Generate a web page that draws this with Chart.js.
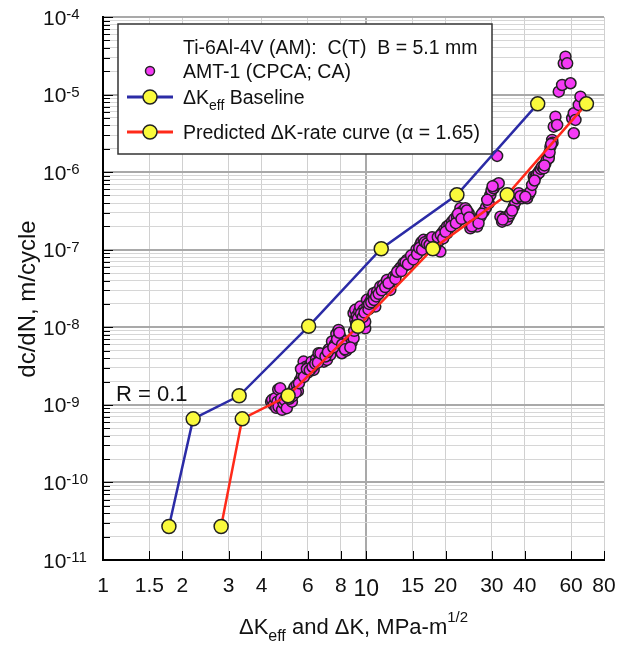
<!DOCTYPE html>
<html>
<head>
<meta charset="utf-8">
<script src="https://cdn.jsdelivr.net/npm/chart.js@4.4.0/dist/chart.umd.min.js"></script>
<style>
  html, body { margin: 0; padding: 0; background: #fff; }
</style>
</head>
<body>
<canvas id="chart" width="619" height="649"></canvas>
<script>
// ---------- data ----------
const xTicks = [1, 1.5, 2, 3, 4, 6, 8, 10, 15, 20, 30, 40, 60, 80];
const yExponents = [-4, -5, -6, -7, -8, -9, -10, -11];

// dK_eff baseline (blue) and predicted dK-rate curve (red) share the same rate levels
const baseK = [1.78, 2.20, 3.29, 6.04, 11.4, 22.1, 44.8];
const predK = [2.81, 3.38, 5.05, 9.30, 17.9, 34.3, 68.6];
const rateLevels = [2.7e-11, 6.6e-10, 1.31e-9, 1.03e-8, 1.03e-7, 5.1e-7, 7.6e-6];

// AMT-1 (CPCA; CA) test data
const amtK = [
  4.35, 4.39, 4.45, 4.51, 4.55, 4.60, 4.63, 4.64, 4.71, 4.75, 4.79, 4.85, 4.90, 4.99, 5.00,
  5.15, 5.22, 5.29, 5.35, 5.45, 5.50, 5.61, 5.70, 5.78, 5.86, 5.90, 6.00, 6.12, 6.20, 6.31,
  6.45, 6.59, 6.68, 6.80, 6.90, 7.09, 7.20, 7.30, 7.41, 7.60, 7.70, 7.85, 7.96, 8.08, 8.20,
  8.30, 8.40, 8.56, 8.80, 8.95, 8.95, 9.08, 9.08, 9.20, 9.40, 9.49, 9.60, 9.77, 9.91, 9.91,
  10.06, 10.1, 10.36, 10.5, 10.66, 10.66, 10.82, 11.0, 11.3, 11.6, 11.99, 12.0, 12.34, 12.5, 12.7,
  13.0, 13.27, 13.5, 13.86, 14.0, 14.28, 14.6, 14.92, 15.3, 15.5, 15.81, 16.04, 16.2, 16.51, 16.8,
  17.26, 17.6, 18.0, 18.57, 18.9, 19.12, 19.4, 19.8, 20.27, 20.27, 20.7, 21.18, 21.6, 22.13, 22.5,
  22.78, 23.12, 23.4, 23.79, 23.79, 24.49, 24.86, 24.86, 25.5, 26.0, 26.36, 27.13, 27.93, 28.5, 29.17,
  29.61, 29.9, 30.48, 31.0, 31.41, 31.85, 32.33, 32.81, 33.5, 34.28, 34.8, 35.28, 36.31, 36.8, 37.3,
  37.94, 39.08, 39.8, 40.83, 41.5, 42.04, 42.66, 43.27, 43.92, 44.5, 45.21, 45.21, 46.0, 46.56, 47.22,
  47.93, 48.5, 49.34, 49.34, 50.07, 50.83, 51.0, 51.54, 52.31, 53.1, 53.85, 55.46, 56.26, 57.11, 57.96,
  59.67, 60.55, 61.41, 61.41, 62.33, 64.14, 65.11,
  5.10, 5.25, 5.40, 5.55, 5.65, 5.80, 5.95, 6.10, 6.25, 6.40,
  6.55, 6.70, 7.00, 7.15, 7.50, 7.75, 7.90, 8.10, 8.30, 8.70,
  9.00, 9.15, 9.30, 9.55, 9.70, 9.85, 10.2, 10.25, 10.45, 10.7,
  10.9, 11.15, 11.45, 11.8, 12.15, 12.9, 13.1, 13.6, 14.1, 14.4,
  14.8, 15.1, 15.6, 15.9, 16.3, 16.7, 17.0, 17.4, 17.8, 18.3,
  18.7, 19.2, 19.6, 20.0, 21.0, 21.9, 22.3, 23.0, 24.1, 24.6,
  25.2, 26.7, 27.5, 28.8, 30.2, 33.0, 35.8, 38.5, 40.2, 43.6,
  47.5, 49.7, 50.4
];
const amtRate = [
  1.10e-9, 1.16e-9, 1.00e-9, 1.22e-9, 9.15e-10, 1.10e-9, 1.58e-9, 9.5e-10, 1.64e-9, 1.20e-9, 8.63e-10, 1.05e-9, 1.15e-9, 9.06e-10, 1.30e-9,
  1.40e-9, 1.10e-9, 1.56e-9, 1.70e-9, 1.81e-9, 1.50e-9, 2.10e-9, 2.40e-9, 3.61e-9, 2.69e-9, 3.10e-9, 2.60e-9, 3.27e-9, 3.60e-9, 2.82e-9,
  3.90e-9, 4.63e-9, 4.00e-9, 4.50e-9, 3.60e-9, 3.80e-9, 5.20e-9, 4.40e-9, 6.55e-9, 6.00e-9, 8.20e-9, 9.25e-9, 7.58e-9, 4.63e-9, 5.64e-9,
  6.60e-9, 5.00e-9, 5.93e-9, 6.40e-9, 7.24e-9, 1.52e-8, 1.25e-8, 1.68e-8, 1.40e-8, 1.60e-8, 1.85e-8, 1.15e-8, 1.68e-8, 9.70e-9, 1.18e-8,
  2.26e-8, 1.90e-8, 2.14e-8, 2.40e-8, 2.62e-8, 2.75e-8, 1.85e-8, 2.90e-8, 3.35e-8, 3.50e-8, 4.08e-8, 3.20e-8, 3.03e-8, 4.00e-8, 4.50e-8,
  4.80e-8, 5.49e-8, 5.90e-8, 6.70e-8, 6.20e-8, 7.39e-8, 7.00e-8, 7.77e-8, 8.50e-8, 1.00e-7, 9.46e-8, 1.15e-7, 1.25e-7, 1.34e-7, 1.10e-7,
  1.34e-7, 1.30e-7, 1.00e-7, 1.21e-7, 1.30e-7, 9.46e-8, 1.63e-7, 1.80e-7, 1.99e-7, 1.63e-7, 2.10e-7, 2.30e-7, 2.50e-7, 2.67e-7, 2.40e-7,
  3.43e-7, 3.10e-7, 2.70e-7, 3.43e-7, 2.95e-7, 2.95e-7, 2.42e-7, 1.89e-7, 2.20e-7, 2.30e-7, 1.99e-7, 2.67e-7, 3.10e-7, 3.50e-7, 3.97e-7,
  5.08e-7, 5.80e-7, 6.20e-7, 6.80e-7, 1.62e-6, 7.19e-7, 2.67e-7, 2.30e-7, 2.60e-7, 2.42e-7, 2.70e-7, 2.95e-7, 3.59e-7, 4.10e-7, 4.60e-7,
  5.35e-7, 4.61e-7, 5.00e-7, 4.61e-7, 5.20e-7, 5.61e-7, 6.84e-7, 8.75e-7, 8.75e-7, 9.30e-7, 1.01e-6, 9.70e-7, 1.10e-6, 1.18e-6, 1.12e-6,
  1.30e-6, 1.45e-6, 1.58e-6, 1.51e-6, 2.13e-6, 2.60e-6, 2.40e-6, 3.86e-6, 5.19e-6, 4.06e-6, 1.09e-5, 1.33e-5, 2.53e-5, 3.08e-5, 2.53e-5,
  1.40e-5, 4.95e-6, 5.74e-6, 3.17e-6, 4.71e-6, 7.35e-6, 9.40e-6,
  1.2e-9, 1.3e-9, 1.45e-9, 1.9e-9, 2.9e-9, 2.3e-9, 2.9e-9, 2.8e-9, 3.1e-9, 3.4e-9,
  3.5e-9, 4.6e-9, 4.2e-9, 4.8e-9, 5.5e-9, 7.0e-9, 8.5e-9, 6.0e-9, 5.2e-9, 5.5e-9,
  9.0e-9, 1.1e-8, 1.3e-8, 1.5e-8, 1.35e-8, 1.55e-8, 1.7e-8, 2.0e-8, 2.1e-8, 2.25e-8,
  2.5e-8, 2.7e-8, 3.0e-8, 3.3e-8, 3.7e-8, 4.2e-8, 5.2e-8, 5.3e-8, 6.9e-8, 6.5e-8,
  8.4e-8, 7.5e-8, 8.8e-8, 1.05e-7, 1.0e-7, 1.25e-7, 1.2e-7, 1.15e-7, 1.45e-7, 1.1e-7,
  1.45e-7, 1.55e-7, 1.4e-7, 1.7e-7, 2.0e-7, 2.2e-7, 2.9e-7, 2.5e-7, 3.2e-7, 2.6e-7,
  2.0e-7, 2.2e-7, 2.9e-7, 4.4e-7, 6.6e-7, 2.45e-7, 3.2e-7, 4.9e-7, 4.8e-7, 7.8e-7,
  1.22e-6, 1.8e-6, 2.3e-6
];

const FONT = '"Liberation Sans", Arial, sans-serif';
const BLUE = '#2b2ba6';
const RED = '#ff2a1a';
const YELLOW = '#fafa3c';
const MAGENTA = '#f53af5';

function pairs(xs, ys) {
  return xs.map((x, i) => ({ x: x, y: ys[i] }));
}

function isDecade(v) {
  const l = Math.log10(v);
  return Math.abs(l - Math.round(l)) < 1e-6;
}

// all 1..9 x 10^n values for the y grid
const yGrid = [];
for (let e = -11; e < -4; e++) {
  for (let m = 1; m <= 9; m++) yGrid.push(m * Math.pow(10, e));
}
yGrid.push(1e-4);

// text with sub / superscript pieces: [text, size, dy]
function richWidth(ctx, parts) {
  let w = 0;
  parts.forEach(p => { ctx.font = p[1] + 'px ' + FONT; w += ctx.measureText(p[0]).width; });
  return w;
}
function richText(ctx, parts, x, y) {
  parts.forEach(p => {
    ctx.font = p[1] + 'px ' + FONT;
    ctx.fillText(p[0], x, y + p[2]);
    x += ctx.measureText(p[0]).width;
  });
}

const decorPlugin = {
  id: 'decor',
  beforeDatasetsDraw(chart) {
    const ctx = chart.ctx;
    const xs = chart.scales.x, ys = chart.scales.y;
    const area = chart.chartArea;
    ctx.save();
    ctx.strokeStyle = '#000';
    ctx.lineWidth = 1;
    // inward ticks on the left axis
    yGrid.forEach(v => {
      const y = Math.round(ys.getPixelForValue(v)) + 0.5;
      ctx.beginPath();
      ctx.moveTo(area.left, y);
      ctx.lineTo(area.left + (isDecade(v) ? 10 : 7), y);
      ctx.stroke();
    });
    // inward ticks on the bottom axis
    xTicks.forEach(v => {
      const x = Math.round(xs.getPixelForValue(v)) + 0.5;
      ctx.beginPath();
      ctx.moveTo(x, area.bottom);
      ctx.lineTo(x, area.bottom - 9);
      ctx.stroke();
    });
    ctx.restore();
  },
  afterDatasetsDraw(chart) {
    const ctx = chart.ctx;
    const xs = chart.scales.x, ys = chart.scales.y;
    const area = chart.chartArea;
    ctx.save();
    ctx.fillStyle = '#111';
    ctx.textBaseline = 'alphabetic';

    // y tick labels 10^n
    ctx.textAlign = 'left';
    yExponents.forEach(e => {
      const y = ys.getPixelForValue(Math.pow(10, e));
      ctx.font = '21px ' + FONT;
      ctx.fillText('10', 43, y + 7.5);
      const w = ctx.measureText('10').width;
      ctx.font = '15px ' + FONT;
      ctx.fillText(String(e), 43 + w, y + 2);
    });

    // x tick labels
    ctx.textAlign = 'center';
    xTicks.forEach(v => {
      const x = xs.getPixelForValue(v);
      if (v === 10) {
        ctx.font = '23px ' + FONT;
        ctx.fillText('10', x, area.bottom + 36);
      } else {
        ctx.font = '21px ' + FONT;
        ctx.fillText(String(v), x, area.bottom + 32);
      }
    });

    // x axis title
    ctx.textAlign = 'left';
    const xt = [['\u0394K', 22, 0], ['eff', 16, 7], [' and \u0394K, MPa-m', 22, 0], ['1/2', 15, -12]];
    const xw = richWidth(ctx, xt);
    richText(ctx, xt, (area.left + area.right) / 2 - xw / 2, 634);

    // y axis title
    ctx.save();
    ctx.translate(35, 299);
    ctx.rotate(-Math.PI / 2);
    ctx.textAlign = 'center';
    ctx.font = '24px ' + FONT;
    ctx.fillText('dc/dN, m/cycle', 0, 0);
    ctx.restore();

    // R = 0.1
    ctx.textAlign = 'left';
    ctx.font = '22px ' + FONT;
    ctx.fillText('R = 0.1', 116, 401);

    // legend box
    const bx = 118, by = 24, bw = 374, bh = 130;
    ctx.fillStyle = '#fff';
    ctx.fillRect(bx, by, bw, bh);
    ctx.strokeStyle = '#333';
    ctx.lineWidth = 1.5;
    ctx.strokeRect(bx, by, bw, bh);

    ctx.fillStyle = '#111';
    ctx.font = '19.5px ' + FONT;
    ctx.fillText('Ti-6Al-4V (AM):  C(T)  B = 5.1 mm', 183, 54);
    ctx.fillText('AMT-1 (CPCA; CA)', 183, 78);
    richText(ctx, [['\u0394K', 19.5, 0], ['eff', 14, 6], [' Baseline', 19.5, 0]], 183, 104);
    ctx.font = '19.5px ' + FONT;
    ctx.fillText('Predicted \u0394K-rate curve (\u03b1 = 1.65)', 183, 139);

    // legend symbols
    ctx.beginPath();
    ctx.arc(150, 71, 4.5, 0, Math.PI * 2);
    ctx.fillStyle = MAGENTA;
    ctx.fill();
    ctx.strokeStyle = '#222';
    ctx.lineWidth = 1.5;
    ctx.stroke();

    [[97, BLUE], [132, RED]].forEach(r => {
      ctx.beginPath();
      ctx.moveTo(127, r[0]);
      ctx.lineTo(173, r[0]);
      ctx.strokeStyle = r[1];
      ctx.lineWidth = 3;
      ctx.stroke();
      ctx.beginPath();
      ctx.arc(150, r[0], 7, 0, Math.PI * 2);
      ctx.fillStyle = YELLOW;
      ctx.fill();
      ctx.strokeStyle = '#222';
      ctx.lineWidth = 1.5;
      ctx.stroke();
    });

    ctx.restore();
  }
};

new Chart(document.getElementById('chart'), {
  type: 'scatter',
  data: {
    datasets: [
      {
        label: 'dKeff Baseline',
        data: pairs(baseK, rateLevels),
        showLine: true,
        borderColor: BLUE,
        borderWidth: 2.5,
        pointRadius: 7,
        pointBackgroundColor: YELLOW,
        pointBorderColor: '#222',
        pointBorderWidth: 1.5,
        tension: 0
      },
      {
        label: 'Predicted dK-rate curve',
        data: pairs(predK, rateLevels),
        showLine: true,
        borderColor: RED,
        borderWidth: 2.5,
        pointRadius: 7,
        pointBackgroundColor: YELLOW,
        pointBorderColor: '#222',
        pointBorderWidth: 1.5,
        tension: 0
      },
      {
        label: 'AMT-1 (CPCA; CA)',
        data: pairs(amtK, amtRate),
        pointRadius: 5.5,
        pointBackgroundColor: MAGENTA,
        pointBorderColor: '#222',
        pointBorderWidth: 1.5
      }
    ]
  },
  options: {
    responsive: false,
    animation: false,
    devicePixelRatio: 1,
    layout: { padding: { top: 17, right: 15, left: 0, bottom: 0 } },
    plugins: { legend: { display: false }, tooltip: { enabled: false } },
    scales: {
      x: {
        type: 'logarithmic',
        min: 1,
        max: 80,
        afterBuildTicks: s => { s.ticks = xTicks.map(v => ({ value: v, major: v === 10 })); },
        afterFit: s => { s.height = 89; },
        ticks: { display: false },
        grid: {
          drawTicks: false,
          color: c => (c.tick && c.tick.value === 10) ? '#a9a9a9' : '#d0d0d0',
          lineWidth: c => (c.tick && c.tick.value === 10) ? 2 : 1
        },
        border: { color: '#000', width: 2 }
      },
      y: {
        type: 'logarithmic',
        min: 1e-11,
        max: 1e-4,
        afterBuildTicks: s => { s.ticks = yGrid.map(v => ({ value: v, major: isDecade(v) })); },
        afterFit: s => { s.width = 103; },
        ticks: { display: false },
        grid: {
          drawTicks: false,
          color: c => (c.tick && isDecade(c.tick.value)) ? '#a9a9a9' : '#d6d6d6',
          lineWidth: c => (c.tick && isDecade(c.tick.value)) ? 2 : 1
        },
        border: { color: '#000', width: 2 }
      }
    }
  },
  plugins: [decorPlugin]
});
</script>
</body>
</html>
